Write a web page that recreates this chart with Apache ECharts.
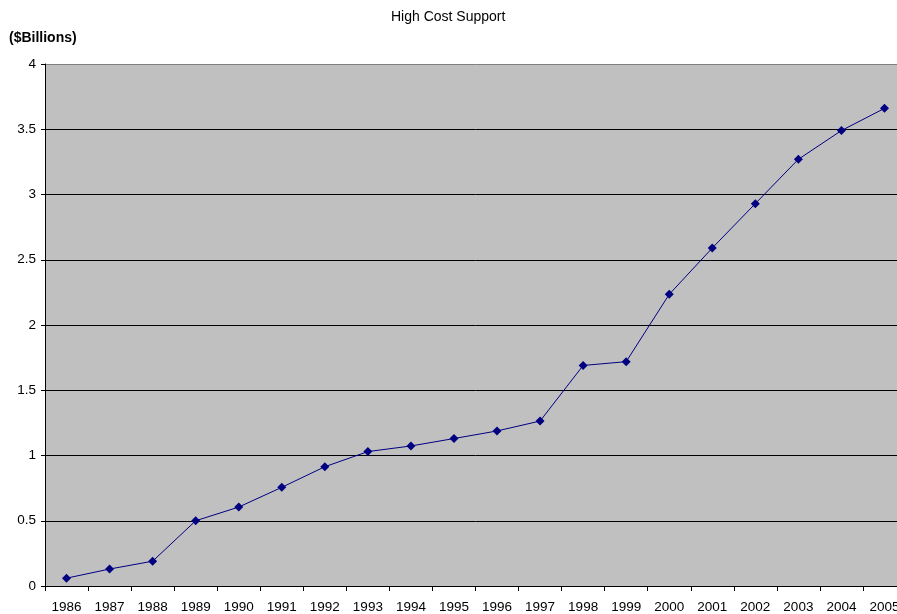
<!DOCTYPE html>
<html>
<head>
<meta charset="utf-8">
<script src="https://cdn.jsdelivr.net/npm/echarts@6/dist/echarts.min.js"></script>
<style>
  html, body { margin: 0; padding: 0; background: #fff; overflow: hidden; }
  /* the plot runs past the right edge of the window, as in the original */
  #chart { width: 906px; height: 614px; }
</style>
</head>
<body>
<div id="chart"></div>
<script>
// data
const years = ['1986', '1987', '1988', '1989', '1990', '1991', '1992', '1993', '1994', '1995',
  '1996', '1997', '1998', '1999', '2000', '2001', '2002', '2003', '2004', '2005']
const support = [0.06, 0.13, 0.19, 0.50, 0.605, 0.756, 0.914, 1.03, 1.073, 1.13,
  1.188, 1.264, 1.69, 1.719, 2.235, 2.59, 2.93, 3.27, 3.49, 3.66]
const yTicks = [0, 0.5, 1, 1.5, 2, 2.5, 3, 3.5, 4]

const font = 'Liberation Sans, Arial, sans-serif'
const chart = echarts.init(document.getElementById('chart'), null, { renderer: 'canvas' })

chart.setOption({
  animation: false,
  backgroundColor: '#fff',
  title: [
    {
      text: 'High Cost Support',
      left: 386,
      top: 5,
      textStyle: { fontFamily: font, fontSize: 14, fontWeight: 'normal', color: '#000' }
    },
    {
      text: '($Billions)',
      left: 4,
      top: 26,
      textStyle: { fontFamily: font, fontSize: 14, fontWeight: 'bold', color: '#000' }
    }
  ],
  grid: {
    left: 45,
    top: 64,
    bottom: 28,
    right: 0,
    show: true,
    backgroundColor: '#c0c0c0',
    borderWidth: 0
  },
  xAxis: {
    type: 'category',
    data: years,
    boundaryGap: true,
    axisLine: { lineStyle: { color: '#000', width: 1 } },
    axisTick: { show: true, length: 5, lineStyle: { color: '#000' } },
    axisLabel: { fontFamily: font, fontSize: 13.5, color: '#000', margin: 14, interval: 0 }
  },
  yAxis: {
    type: 'value',
    min: yTicks[0],
    max: yTicks[yTicks.length - 1],
    interval: 0.5,
    axisLine: { show: true, lineStyle: { color: '#000', width: 1 } },
    axisTick: { show: true, length: 4, lineStyle: { color: '#000' } },
    axisLabel: { fontFamily: font, fontSize: 13.5, color: '#000', margin: 9 },
    splitLine: {
      show: true,
      lineStyle: {
        color: ['#000', '#000', '#000', '#000', '#000', '#000', '#000', '#000', '#808080'],
        width: 1
      }
    }
  },
  series: [{
    name: 'High Cost Support',
    type: 'line',
    data: support,
    symbol: 'diamond',
    symbolSize: 9,
    itemStyle: { color: '#000080' },
    lineStyle: { color: '#000080', width: 1 },
    clip: false
  }]
})
</script>
</body>
</html>
